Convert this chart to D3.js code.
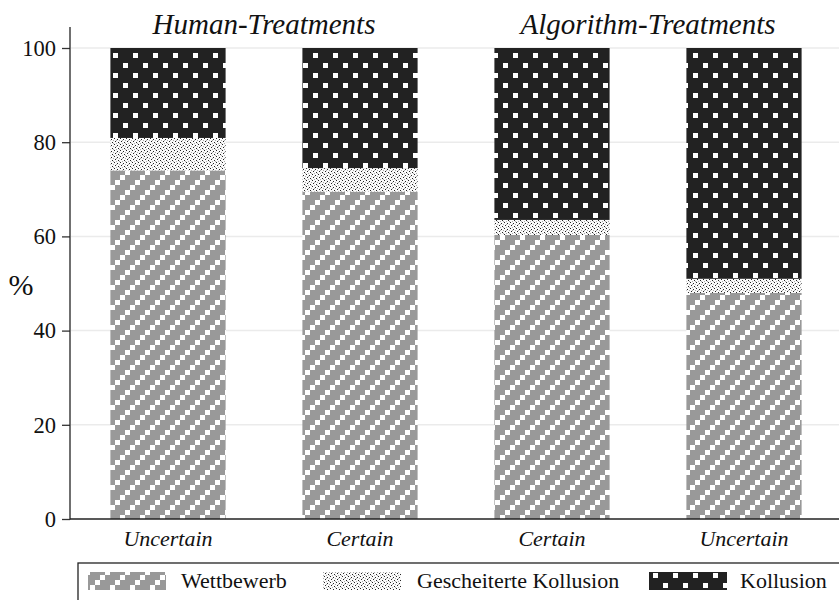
<!DOCTYPE html>
<html><head><meta charset="utf-8">
<script src="https://cdn.jsdelivr.net/npm/d3@7"></script>
<style>body{margin:0;background:#fff}svg{display:block}</style>
</head><body><svg id="c" width="839" height="600"></svg>
<script>
const categories = ["Uncertain","Certain","Certain","Uncertain"];
const groups = ["Human-Treatments","Algorithm-Treatments"];
const wettbewerb = [74.0, 69.5, 60.3, 48.0];
const gescheitert = [6.9, 5.0, 3.2, 3.0];
const kollusion = [19.1, 25.5, 36.5, 49.0];
const seriesNames = ["Wettbewerb","Gescheiterte Kollusion","Kollusion"];
const yTicks = [0,20,40,60,80,100];

const FONT = "'Liberation Serif', Tinos, 'Times New Roman', 'DejaVu Serif', serif";
const svg = d3.select("#c");
const defs = svg.append("defs");

// Wettbewerb pattern: gray with white stair diagonal
const p1 = defs.append("pattern").attr("id","pw").attr("patternUnits","userSpaceOnUse").attr("width",20).attr("height",20);
p1.append("rect").attr("width",20).attr("height",20).attr("fill","#999");
[[0,15],[5,10],[10,5],[15,0]].forEach(([x,y])=>p1.append("rect").attr("x",x).attr("y",y).attr("width",5).attr("height",5).attr("fill","#fff"));
// Gescheiterte: fine stipple
const p2 = defs.append("pattern").attr("id","pg").attr("patternUnits","userSpaceOnUse").attr("width",6).attr("height",6);
p2.append("rect").attr("width",6).attr("height",6).attr("fill","#fafafa");
[[0,0],[3,1],[1,3],[4,4]].forEach(([x,y])=>p2.append("rect").attr("x",x).attr("y",y).attr("width",1).attr("height",1).attr("fill","#222"));
[[2,2],[5,5],[5,2],[2,5]].forEach(([x,y])=>p2.append("rect").attr("x",x).attr("y",y).attr("width",1).attr("height",1).attr("fill","#aaa"));
// Kollusion: dark with staggered white squares
const p3 = defs.append("pattern").attr("id","pk").attr("patternUnits","userSpaceOnUse").attr("width",20).attr("height",20);
p3.append("rect").attr("width",20).attr("height",20).attr("fill","#222");
[[3,3],[13,13]].forEach(([x,y])=>p3.append("rect").attr("x",x).attr("y",y).attr("width",5).attr("height",5).attr("fill","#fff"));
const fills = ["url(#pw)","url(#pg)","url(#pk)"];

const x = d3.scaleBand().domain(d3.range(categories.length)).range([72,840]).paddingInner(0.4).paddingOuter(0.2);
const y = d3.scaleLinear().domain([0,100]).range([519,48]);

// gridlines
svg.append("g").selectAll("line").data(yTicks.slice(1)).join("line")
  .attr("x1",71).attr("x2",839).attr("y1",d=>y(d)).attr("y2",d=>y(d))
  .attr("stroke","#ebebeb").attr("stroke-width",1.5);

// bars
const stackData = categories.map((c,i)=>({i, w:wettbewerb[i], g:gescheitert[i], k:kollusion[i]}));
const stack = d3.stack().keys(["w","g","k"])(stackData);
svg.append("g").selectAll("g").data(stack).join("g").attr("fill",(d,i)=>fills[i])
  .selectAll("rect").data(d=>d).join("rect")
  .attr("x",d=>x(d.data.i)).attr("width",x.bandwidth())
  .attr("y",d=>y(d[1])).attr("height",d=>y(d[0])-y(d[1]));

// y axis
const ya = svg.append("g").attr("transform","translate(70,0)")
  .call(d3.axisLeft(y).tickValues(yTicks).tickSize(8).tickPadding(6));
ya.attr("font-family",FONT);
ya.select(".domain").remove();
ya.selectAll(".tick line").attr("stroke","#333").attr("stroke-width",1.3);
ya.selectAll(".tick text").attr("font-size",22.5).attr("font-family",FONT).attr("fill","#111");
svg.append("line").attr("x1",70).attr("x2",70).attr("y1",27).attr("y2",519.5).attr("stroke","#222").attr("stroke-width",1.3);
// x axis
svg.append("line").attr("x1",70).attr("x2",839).attr("y1",519).attr("y2",519).attr("stroke","#222").attr("stroke-width",1.3);
svg.selectAll(".xl").data(categories).join("text").attr("class","xl")
  .attr("x",(d,i)=>x(i)+x.bandwidth()/2).attr("y",546).attr("text-anchor","middle")
  .attr("font-family",FONT).attr("fill","#111")
  .attr("font-size",22).attr("font-style","italic").text(d=>d);

// y label
svg.append("text").attr("x",21).attr("y",295).attr("text-anchor","middle").attr("font-family",FONT).attr("fill","#111").attr("font-size",30).text("%");

// group titles
groups.forEach((g,j)=>{
  const cx = (x(2*j)+x(2*j+1)+x.bandwidth())/2;
  svg.append("text").attr("x",cx).attr("y",34).attr("text-anchor","middle")
    .attr("font-family",FONT).attr("fill","#111")
    .attr("font-size",29).attr("font-style","italic").text(g);
});

// legend
svg.append("rect").attr("x",78).attr("y",563).attr("width",770).attr("height",45).attr("fill","none").attr("stroke","#222").attr("stroke-width",1.3);
const legX = [[88,181],[323,417],[649,740]];
seriesNames.forEach((s,i)=>{
  svg.append("rect").attr("x",legX[i][0]).attr("y",572).attr("width",78).attr("height",18).attr("fill",fills[i]);
  svg.append("text").attr("x",legX[i][1]).attr("y",588).attr("font-family",FONT).attr("fill","#111").attr("font-size",22).text(s);
});
</script></body></html>
